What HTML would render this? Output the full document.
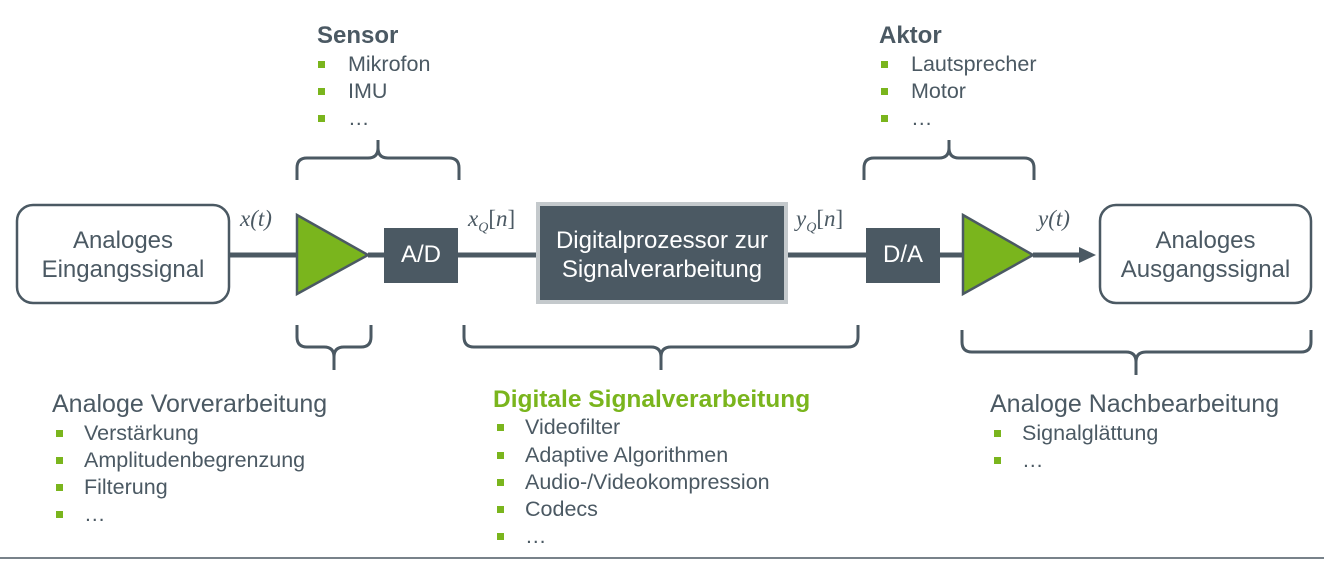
<!DOCTYPE html>
<html><head><meta charset="utf-8"><style>
body{margin:0;width:1324px;height:561px;background:#fff;position:relative;overflow:hidden;font-family:"Liberation Sans",sans-serif;color:#4b5963}
.t{position:absolute;white-space:nowrap}
.h{font-size:24px}
.b{font-size:21.5px}
.sq{position:absolute;width:7px;height:7px;background:#7ab51d}
.m{font-family:"Liberation Serif",serif;font-style:italic;font-size:23px;position:absolute;color:#4b5963}
</style></head><body>
<svg width="1324" height="561" style="position:absolute;left:0;top:0">
<g fill="none" stroke="#4b5963" stroke-width="4">
<rect x="17" y="205" width="212" height="98" rx="16" stroke-width="2.5"/>
<rect x="1100" y="205" width="211" height="98" rx="16" stroke-width="2.5"/>
<line x1="229" y1="255" x2="297" y2="255" stroke-width="5"/>
<line x1="368" y1="255" x2="385" y2="255" stroke-width="5"/>
<line x1="458" y1="255" x2="538" y2="255" stroke-width="5"/>
<line x1="786" y1="255" x2="866" y2="255" stroke-width="5"/>
<line x1="940" y1="255" x2="963" y2="255" stroke-width="5"/>
<line x1="1033" y1="255" x2="1080" y2="255" stroke-width="5"/>
<path d="M297 180 v-12 q0-10 10-10 h61 q10 0 10-10 v-8 v8 q0 10 10 10 h61 q10 0 10 10 v12" stroke-width="3"/>
<path d="M864 180 v-12 q0-10 10-10 h65 q10 0 10-10 v-8 v8 q0 10 10 10 h65 q10 0 10 10 v12" stroke-width="3"/>
<path d="M297 325 v12 q0 10 10 10 h17 q10 0 10 10 v13 v-13 q0-10 10-10 h17 q10 0 10-10 v-12" stroke-width="3"/>
<path d="M464 325 v12 q0 10 10 10 h177 q10 0 10 10 v13 v-13 q0-10 10-10 h177 q10 0 10-10 v-12" stroke-width="3"/>
<path d="M962 330 v12 q0 10 10 10 h154 q10 0 10 10 v13 v-13 q0-10 10-10 h155 q10 0 10-10 v-12" stroke-width="3"/>
</g>
<polygon points="1079,247 1096,255 1079,263" fill="#4b5963"/>
<polygon points="297,215 368,255 297,294" fill="#7ab51d" stroke="#4b5963" stroke-width="2.5"/>
<polygon points="963,215 1033,255 963,294" fill="#7ab51d" stroke="#4b5963" stroke-width="2.5"/>
<rect x="384" y="228" width="74" height="55" fill="#4b5963"/>
<rect x="866" y="228" width="74" height="55" fill="#4b5963"/>
<rect x="538" y="204" width="248" height="98" fill="#4b5963" stroke="#c4c9cc" stroke-width="4"/>
<line x1="0" y1="558" x2="1324" y2="558" stroke="#4b5963" stroke-width="1.5"/>
</svg>
<div class="t" style="left:17px;width:212px;top:226px;text-align:center;font-size:24px;line-height:29px">Analoges<br>Eingangssignal</div>
<div class="t" style="left:1100px;width:211px;top:226px;text-align:center;font-size:24px;line-height:29px">Analoges<br>Ausgangssignal</div>
<div class="t" style="left:538px;width:248px;top:226px;text-align:center;font-size:24px;line-height:29px;color:#fff">Digitalprozessor zur<br>Signalverarbeitung</div>
<div class="t" style="left:384px;width:74px;top:241px;text-align:center;font-size:24px;color:#fff">A/D</div>
<div class="t" style="left:866px;width:74px;top:241px;text-align:center;font-size:24px;color:#fff">D/A</div>
<div class="m" style="left:240px;top:206px">x(t)</div>
<div class="m" style="left:468px;top:206px">x<sub style="font-size:14px">Q</sub><span style="font-style:normal">[</span>n<span style="font-style:normal">]</span></div>
<div class="m" style="left:796px;top:206px">y<sub style="font-size:14px">Q</sub><span style="font-style:normal">[</span>n<span style="font-style:normal">]</span></div>
<div class="m" style="left:1038px;top:206px">y(t)</div>

<div class="t h" style="left:317px;top:22px;font-weight:bold">Sensor</div>
<div class="sq" style="left:318px;top:61px"></div><div class="t b" style="left:348px;top:52px">Mikrofon</div>
<div class="sq" style="left:318px;top:88px"></div><div class="t b" style="left:348px;top:79px">IMU</div>
<div class="sq" style="left:318px;top:115px"></div><div class="t b" style="left:348px;top:106px">…</div>

<div class="t h" style="left:879px;top:22px;font-weight:bold">Aktor</div>
<div class="sq" style="left:881px;top:61px"></div><div class="t b" style="left:911px;top:52px">Lautsprecher</div>
<div class="sq" style="left:881px;top:88px"></div><div class="t b" style="left:911px;top:79px">Motor</div>
<div class="sq" style="left:881px;top:115px"></div><div class="t b" style="left:911px;top:106px">…</div>

<div class="t h" style="left:52px;top:390px;font-size:25px">Analoge Vorverarbeitung</div>
<div class="sq" style="left:56px;top:430px"></div><div class="t b" style="left:84px;top:421px">Verstärkung</div>
<div class="sq" style="left:56px;top:457px"></div><div class="t b" style="left:84px;top:448px">Amplitudenbegrenzung</div>
<div class="sq" style="left:56px;top:484px"></div><div class="t b" style="left:84px;top:475px">Filterung</div>
<div class="sq" style="left:56px;top:511px"></div><div class="t b" style="left:84px;top:502px">…</div>

<div class="t h" style="left:493px;top:386px;font-size:24.5px;font-weight:bold;color:#7ab51d">Digitale Signalverarbeitung</div>
<div class="sq" style="left:497px;top:424px"></div><div class="t b" style="left:525px;top:415px">Videofilter</div>
<div class="sq" style="left:497px;top:452px"></div><div class="t b" style="left:525px;top:443px">Adaptive Algorithmen</div>
<div class="sq" style="left:497px;top:479px"></div><div class="t b" style="left:525px;top:470px">Audio-/Videokompression</div>
<div class="sq" style="left:497px;top:506px"></div><div class="t b" style="left:525px;top:497px">Codecs</div>
<div class="sq" style="left:497px;top:533px"></div><div class="t b" style="left:525px;top:524px">…</div>

<div class="t h" style="left:990px;top:390px;font-size:25px">Analoge Nachbearbeitung</div>
<div class="sq" style="left:994px;top:430px"></div><div class="t b" style="left:1022px;top:421px">Signalglättung</div>
<div class="sq" style="left:994px;top:457px"></div><div class="t b" style="left:1022px;top:448px">…</div>
</body></html>
